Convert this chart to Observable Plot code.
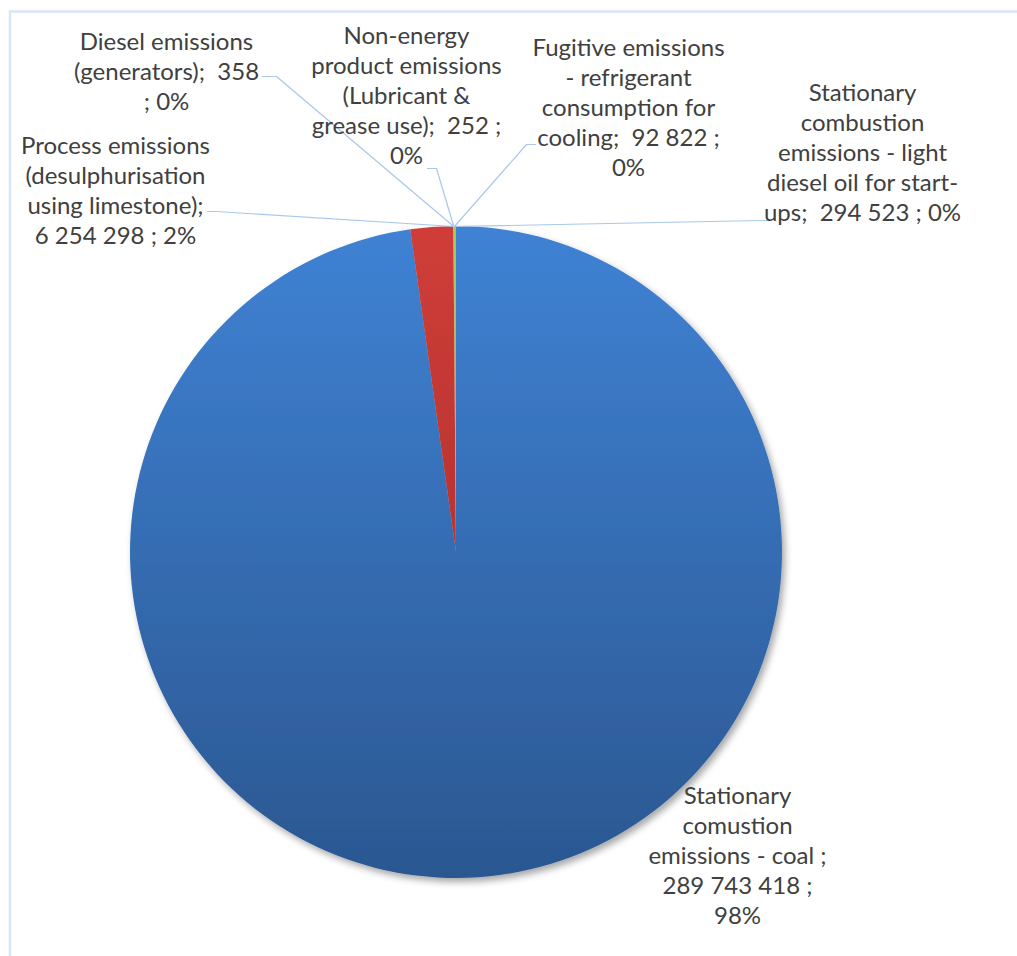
<!DOCTYPE html>
<html>
<head>
<meta charset="utf-8">
<script src="https://cdn.jsdelivr.net/npm/d3@7"></script>
<script src="https://cdn.jsdelivr.net/npm/@observablehq/plot@0.6"></script>
<style>
  html, body { margin: 0; padding: 0; background: #fff; }
  #chart svg text { white-space: pre; }
</style>
</head>
<body>
<div id="chart"></div>
<script>
// Emission sources, in the order the slices run clockwise from 12 o'clock
const categories = [
  "Stationary comustion emissions - coal",
  "Process emissions (desulphurisation using limestone)",
  "Diesel emissions (generators)",
  "Non-energy product emissions (Lubricant & grease use)",
  "Fugitive emissions - refrigerant consumption for cooling",
  "Stationary combustion emissions - light diesel oil for start-ups"
];
const emissions = [289743418, 6254298, 358, 252, 92822, 294523];

// Data label text, wrapped into lines ({v} = value, {p} = share)
const labelTemplates = [
  "Stationary|comustion|emissions - coal ;|{v} ;|{p}",
  "Process emissions|(desulphurisation|using limestone);|{v} ; {p}",
  "Diesel emissions|(generators);  {v}|; {p}",
  "Non-energy|product emissions|(Lubricant &|grease use);  {v} ;|{p}",
  "Fugitive emissions|- refrigerant|consumption for|cooling;  {v} ;|{p}",
  "Stationary|combustion|emissions - light|diesel oil for start-|ups;  {v} ; {p}"
];

// Layout: label block centres and leader-line start / elbow points (pixels)
const labelX = [737, 115, 166, 406, 628, 862];
const labelY = [854, 189, 70, 94, 106, 151];
const leaderStart = [null, [207, 211], [262, 76], [427, 168], [535, 144], [767, 220]];
const leaderElbow = [null, [216, 211], [276, 76], [436, 168], [526, 144], [760, 220]];

// Slice colours: [top, bottom] of the vertical gradient
const sliceColors = [
  ["#3f82d4", "#2b5791"],
  ["#d03d39", "#9e2a26"],
  ["#8a6cb0", "#634c87"],
  ["#52b6d1", "#3a8ea6"],
  ["#f9a050", "#d07a2c"],
  ["#a9c94a", "#86a536"]
];

const W = 1017, H = 956;
const pieCenter = [456, 552];
const pieRadius = 326;
const fontSize = 24;
const lineH = 1.25;
const textColor = "#404040";
const leaderColor = "#a9c8ec";
const frameColor = "#d8e5f5";

const total = d3.sum(emissions);
const fmtValue = v => d3.format(",")(v).replace(/,/g, " ");
const fmtPct = d3.format(".0%");

const slices = categories.map((name, i) => ({name, value: emissions[i], i}));
const arcs = d3.pie().sort(null).value(d => d.value)(slices);

const labels = slices.map((d, i) => ({
  x: labelX[i],
  y: labelY[i],
  text: labelTemplates[i]
    .replace("{v}", fmtValue(d.value))
    .replace("{p}", fmtPct(d.value / total))
    .split("|").join("\n")
}));

// Leader lines: label end -> elbow -> slice edge at the top of the pie
const leaders = [];
arcs.forEach((a, i) => {
  if (!leaderStart[i]) return;
  const ang = a.endAngle;
  const tx = pieCenter[0] + pieRadius * Math.sin(ang);
  const ty = pieCenter[1] - pieRadius * Math.cos(ang);
  leaders.push({k: i, x: leaderStart[i][0], y: leaderStart[i][1]});
  leaders.push({k: i, x: leaderElbow[i][0], y: leaderElbow[i][1]});
  leaders.push({k: i, x: tx, y: ty});
});

// Pie slices drawn with d3.arc, placed through the plot's x / y scales
function pieMark(index, scales, values, dimensions, context) {
  const cx = scales.x(pieCenter[0]);
  const cy = scales.y(pieCenter[1]);
  const r = scales.x(pieCenter[0] + pieRadius) - cx;
  const g = d3.create("svg:g");
  const defs = g.append("defs");
  defs.append("filter")
      .attr("id", "pie-shadow")
      .attr("x", "-10%").attr("y", "-10%").attr("width", "120%").attr("height", "120%")
    .append("feDropShadow")
      .attr("dx", 3).attr("dy", 4).attr("stdDeviation", 3.5)
      .attr("flood-color", "#000").attr("flood-opacity", 0.35);
  sliceColors.forEach((c, i) => {
    const lg = defs.append("linearGradient")
      .attr("id", `slice-grad-${i}`)
      .attr("gradientUnits", "userSpaceOnUse")
      .attr("x1", 0).attr("x2", 0).attr("y1", -r).attr("y2", r);
    lg.append("stop").attr("offset", 0).attr("stop-color", c[0]);
    lg.append("stop").attr("offset", 1).attr("stop-color", c[1]);
  });
  const arc = d3.arc().innerRadius(0).outerRadius(r);
  g.append("g")
      .attr("transform", `translate(${cx},${cy})`)
      .attr("filter", "url(#pie-shadow)")
    .selectAll("path")
    .data(arcs)
    .join("path")
      .attr("d", arc)
      .attr("fill", d => `url(#slice-grad-${d.index})`);
  return g.node();
}

const chart = Plot.plot({
  width: W,
  height: H,
  margin: 0,
  style: {background: "#fff", overflow: "visible"},
  x: {domain: [0, W], range: [0, W], axis: null},
  y: {domain: [0, H], range: [0, H], axis: null},
  marks: [
    Plot.ruleX([9.5], {y1: 11, y2: H, stroke: frameColor, strokeWidth: 2.5}),
    Plot.ruleY([11], {x1: 9, x2: W, stroke: frameColor, strokeWidth: 2.5}),
    pieMark,
    Plot.line(leaders, {x: "x", y: "y", z: "k", stroke: leaderColor, strokeWidth: 1.2, curve: "linear"}),
    Plot.text(labels, {
      x: "x", y: "y", text: "text",
      fontSize, lineHeight: lineH,
      fill: textColor,
      fontFamily: "Lato, 'Open Sans', sans-serif",
      textAnchor: "middle", lineAnchor: "middle"
    })
  ]
});

document.getElementById("chart").append(chart);
</script>
</body>
</html>
